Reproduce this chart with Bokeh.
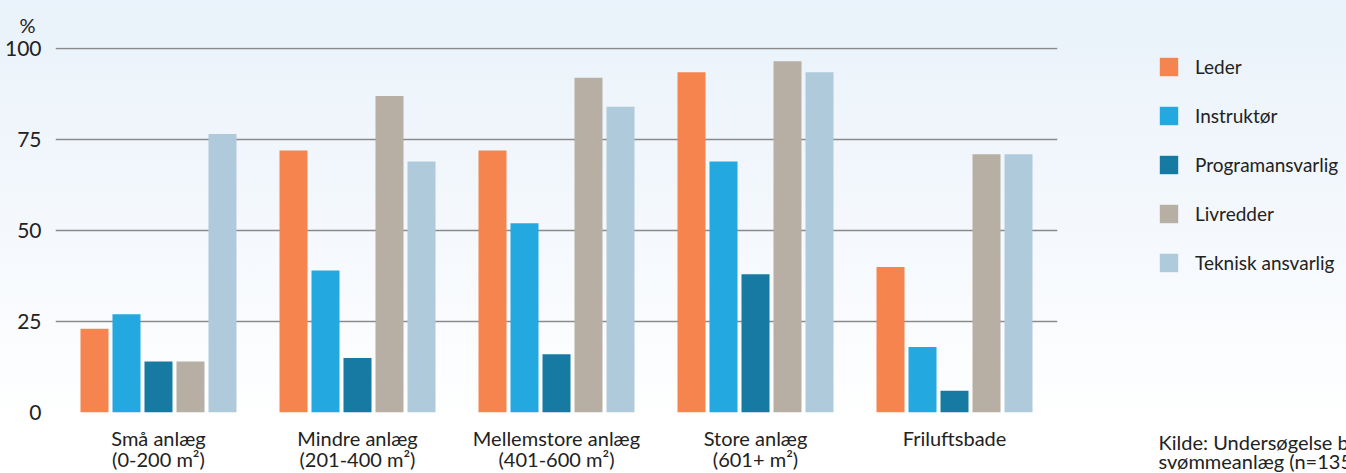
from bokeh.plotting import figure
from bokeh.layouts import row
from bokeh.models import FactorRange, Range1d, FixedTicker, Legend, LegendItem, Label, ColumnDataSource
from bokeh.transform import dodge
from bokeh.embed import file_html
from bokeh.resources import INLINE

categories = ["Små anlæg\n(0-200 m²)", "Mindre anlæg\n(201-400 m²)", "Mellemstore anlæg\n(401-600 m²)",
              "Store anlæg\n(601+ m²)", "Friluftsbade"]
series_names = ["Leder", "Instruktør", "Programansvarlig", "Livredder", "Teknisk ansvarlig"]
leder = [23, 72, 72, 93.5, 40]
instruktor = [27, 39, 52, 69, 18]
programansvarlig = [14, 15, 16, 38, 6]
livredder = [14, 87, 92, 96.5, 71]
teknisk = [76.5, 69, 84, 93.5, 71]
y_ticks = [0, 25, 50, 75, 100]
colors = ["#F5844F", "#23A8E0", "#177AA3", "#B7AFA3", "#AFCADB"]
source_note = "Kilde: Undersøgelse blandt\nsvømmeanlæg (n=135)"
unit_label = "%"

FONT = "Lato"
TXT = "#222222"
BG = "linear-gradient(#e9f2fa 0%, #f6f9fd 55%, #ffffff 90%)"

src = ColumnDataSource(dict(cat=categories, s0=leder, s1=instruktor, s2=programansvarlig,
                            s3=livredder, s4=teknisk))

p = figure(width=1100, height=473, output_backend="svg", toolbar_location=None,
           x_range=FactorRange(*categories, range_padding=0.0175, range_padding_units="absolute"),
           y_range=Range1d(0, 100.3),
           min_border_left=55, min_border_right=43, min_border_top=47, min_border_bottom=61)
p.frame_align = False
p.background_fill_color = None
p.border_fill_color = None
p.outline_line_color = None
p.styles = {"background": BG}

stride = 0.1608
width = 0.1407
offsets = [-2 * stride, -stride, 0, stride, 2 * stride]
for i, col in enumerate(colors):
    p.vbar(x=dodge("cat", offsets[i], range=p.x_range), top=f"s{i}", bottom=0, width=width,
           source=src, fill_color=col, line_color=None)

p.yaxis.ticker = FixedTicker(ticks=y_ticks)
p.yaxis.axis_line_color = None
p.yaxis.major_tick_line_color = None
p.yaxis.minor_tick_line_color = None
p.yaxis.major_label_text_font = FONT
p.yaxis.major_label_text_font_size = "21px"
p.yaxis.major_label_text_color = TXT
p.yaxis.major_label_standoff = 8

p.xaxis.axis_line_color = None
p.xaxis.major_tick_line_color = None
p.xaxis.minor_tick_line_color = None
p.xaxis.major_label_text_font = FONT
p.xaxis.major_label_text_font_size = "20px"
p.xaxis.major_label_text_color = TXT
p.xaxis.major_label_standoff = 7
p.xaxis.major_label_text_line_height = 0.875

p.xgrid.grid_line_color = None
p.ygrid.ticker = FixedTicker(ticks=y_ticks)
p.ygrid.grid_line_color = "#8a8a8a"
p.ygrid.grid_line_width = 1.5
p.ygrid.level = "underlay"

p.title.text = unit_label
p.title.align = "left"
p.title.offset = -36
p.title.standoff = 21
p.title.text_font = FONT
p.title.text_font_size = "20px"
p.title.text_font_style = "normal"
p.title.text_color = TXT

# side figure holding the legend and the source note; its zero-width bars sit far outside
# its visible y range, so only their legend swatches show
p2 = figure(width=246, height=473, output_backend="svg", toolbar_location=None,
            x_axis_type=None, y_axis_type=None,
            x_range=FactorRange(*categories), y_range=Range1d(-1000, -999),
            min_border=0, min_border_left=0, min_border_right=0, min_border_top=0, min_border_bottom=0)
p2.frame_align = False
p2.background_fill_color = None
p2.border_fill_color = None
p2.outline_line_color = None
p2.grid.visible = False
p2.styles = {"background": BG}

items = []
for i, (name, col) in enumerate(zip(series_names, colors)):
    r = p2.vbar(x="cat", top=f"s{i}", bottom=0, width=0, source=src, fill_color=col, line_color=None)
    items.append(LegendItem(label=name, renderers=[r]))

legend = Legend(items=items, location=(57, 199), orientation="vertical")
legend.glyph_width = 23
legend.glyph_height = 23
legend.spacing = 26
legend.padding = 0
legend.margin = 0
legend.label_standoff = 15
legend.label_text_font = FONT
legend.label_text_font_size = "19px"
legend.label_text_color = TXT
legend.border_line_color = None
legend.background_fill_alpha = 0
legend.label_height = 20
p2.add_layout(legend, "center")

p2.add_layout(Label(x=58, y=44, x_units="screen", y_units="screen", text=source_note,
                    text_font=FONT, text_font_size="20px", text_color=TXT,
                    text_align="left", text_baseline="top", text_line_height=0.8))

layout = row(p, p2, spacing=0)
open("out.html", "w").write(file_html(layout, INLINE))
